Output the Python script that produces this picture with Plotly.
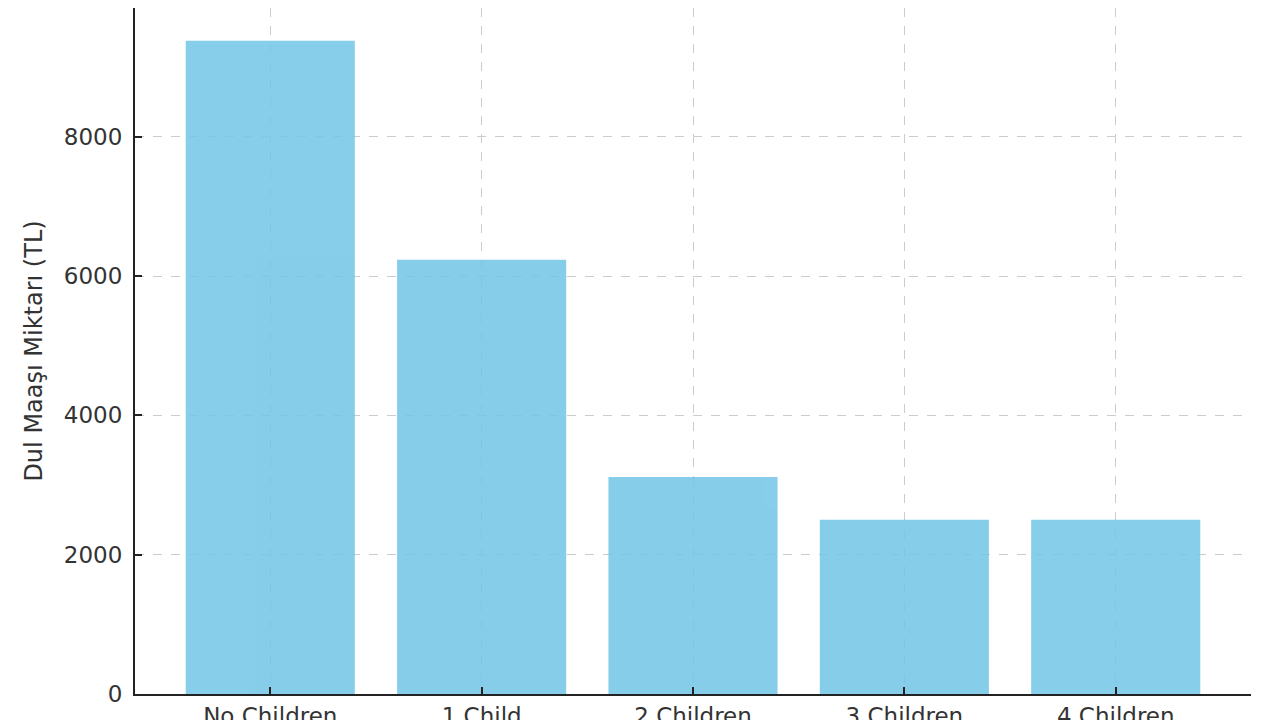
import plotly.graph_objects as go

categories = ["No Children", "1 Child", "2 Children", "3 Children", "4 Children"]
amounts = [9380, 6235, 3117, 2500, 2500]
y_ticks = [0, 2000, 4000, 6000, 8000]

font_family = "DejaVu Sans, Liberation Sans, sans-serif"
text_color = "#333333"

fig = go.Figure()
fig.add_trace(go.Bar(
    x=list(range(len(categories))),
    y=amounts,
    width=0.8,
    marker=dict(color="rgb(114,197,231)", line=dict(width=0)),
    opacity=0.85,
    hoverinfo="x+y",
))

fig.update_layout(
    width=1280,
    height=720,
    paper_bgcolor="white",
    plot_bgcolor="white",
    margin=dict(l=127, r=37, t=0, b=34, autoexpand=False),
    showlegend=False,
    font=dict(family=font_family, size=23, color=text_color),
    xaxis=dict(
        range=[-0.64, 4.64],
        tickmode="array",
        tickvals=list(range(len(categories))),
        ticktext=categories,
        ticks="inside",
        ticklen=7,
        tickwidth=1.5,
        tickcolor="#222222",
        showline=True,
        linecolor="#222222",
        linewidth=2,
        showgrid=True,
        gridcolor="#cccccc",
        griddash="dash",
        gridwidth=1,
        zeroline=False,
        automargin=False,
        tickfont=dict(size=23, color=text_color),
    ),
    yaxis=dict(
        range=[0, 9849],
        tickmode="array",
        tickvals=y_ticks,
        ticktext=[str(v) for v in y_ticks],
        ticks="inside",
        ticklen=7,
        tickwidth=1.5,
        tickcolor="#222222",
        showline=True,
        linecolor="#222222",
        linewidth=2,
        showgrid=True,
        gridcolor="#cccccc",
        griddash="dash",
        gridwidth=1,
        zeroline=False,
        automargin=False,
        ticklabelstandoff=6,
        tickfont=dict(size=23, color=text_color),
        title=dict(text="Dul Maaşı Miktarı (TL)", font=dict(size=24, color=text_color), standoff=14),
    ),
)

fig.write_html("out.html")
